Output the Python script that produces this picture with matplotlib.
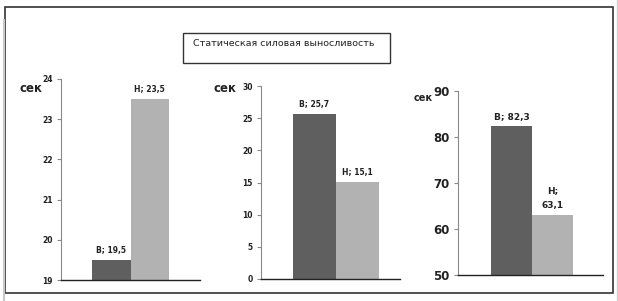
import matplotlib
matplotlib.use("Agg")
import matplotlib.pyplot as plt
from matplotlib.patches import Rectangle
from matplotlib.lines import Line2D

# данные
kategorii = ["В", "Н"]
vrijednosti1 = [19.5, 23.5]
vrijednosti2 = [25.7, 15.1]
vrijednosti3 = [82.3, 63.1]
ticks1 = [19, 20, 21, 22, 23, 24]
ticks2 = [0, 5, 10, 15, 20, 25, 30]
ticks3 = [50, 60, 70, 80, 90]
naslov = "Статическая силовая выносливость"
jedinica = "сек"

W, H = 618, 301
boje = ["#5f5f5f", "#b2b2b2"]

fig = plt.figure(figsize=(W / 100, H / 100), dpi=100)
fig.patch.set_facecolor("white")

def px(x0, y0, x1, y1):
    return [x0 / W, 1 - y1 / H, (x1 - x0) / W, (y1 - y0) / H]

# okvir
fig.lines.append(Line2D([3.5 / W, 3.5 / W], [0, 1 - 20 / H], transform=fig.transFigure,
                        color="#c8c8c8", linewidth=1.5))
fig.lines.append(Line2D([617 / W, 617 / W], [0, 1], transform=fig.transFigure,
                        color="#d0d0d0", linewidth=1.0))
fig.patches.append(Rectangle((5 / W, 1 - 293 / H), 608 / W, 286 / H, transform=fig.transFigure,
                             fill=False, edgecolor="#333333", linewidth=1.2))
fig.patches.append(Rectangle((183 / W, 1 - 63 / H), 207 / W, 30 / H, transform=fig.transFigure,
                             fill=False, edgecolor="#333333", linewidth=1.0))
fig.text(193 / W, 1 - 44 / H, naslov, fontsize=6.8, va="center", ha="left", color="#222222")


def NacrtajPanel(okvir, vrijednosti, ticks, xlim, vel, etikete, vel_et, sek_xy, sek_vel):
    ax = fig.add_axes(px(*okvir))
    ax.bar([0, 1], vrijednosti, width=1.0, color=boje, edgecolor="none")
    ax.set_xlim(*xlim)
    ax.set_ylim(ticks[0], ticks[-1])
    ax.set_yticks(ticks)
    ax.set_yticklabels([str(t) for t in ticks], fontsize=vel, fontweight="bold", color="#222222")
    ax.set_xticks([])
    for s in ["top", "right"]:
        ax.spines[s].set_visible(False)
    ax.spines["left"].set_color("#8a8a8a")
    ax.spines["bottom"].set_color("#222222")
    ax.spines["bottom"].set_linewidth(1.0)
    ax.tick_params(axis="y", length=3, width=0.8, color="#8a8a8a", pad=3)
    raspon = ticks[-1] - ticks[0]
    for i, (k, v) in enumerate(zip(kategorii, vrijednosti)):
        ax.text(i, v + raspon * 0.025, etikete[i], ha="center", va="bottom",
                fontsize=vel_et, fontweight="bold", color="#222222",
                linespacing=1.9)
    fig.text(sek_xy[0] / W, 1 - sek_xy[1] / H, jedinica, fontsize=sek_vel, fontweight="bold",
             ha="left", va="center", color="#222222")
    return ax


NacrtajPanel((61, 79, 200, 280), vrijednosti1, ticks1, (-1.3, 2.3), 5.5,
             ["В; 19,5", "Н; 23,5"], 5.5, (20, 88), 8.5)
NacrtajPanel((261, 86, 400, 279), vrijednosti2, ticks2, (-1.25, 2.0), 5.5,
             ["В; 25,7", "Н; 15,1"], 5.5, (213, 88), 8.5)
NacrtajPanel((458, 91, 603, 275), vrijednosti3, ticks3, (-1.3, 2.23), 8.5,
             ["В; 82,3", "Н;\n63,1"], 6.5, (414, 98), 7)

fig.savefig("out.png", dpi=100, facecolor="white")
